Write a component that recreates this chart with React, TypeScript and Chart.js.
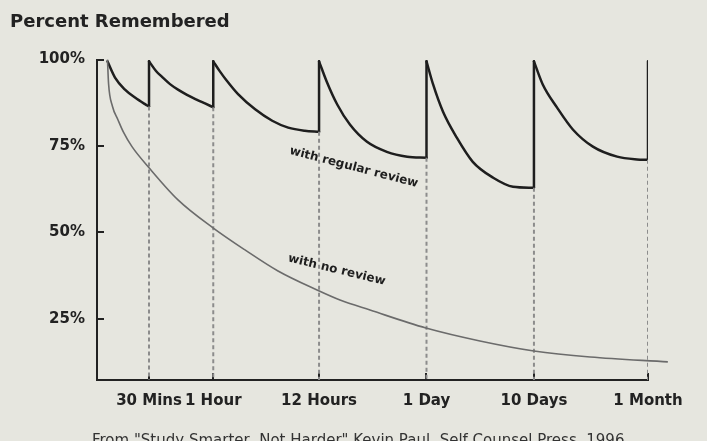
import { useEffect, useRef } from 'react';
import { Chart, registerables } from 'chart.js';

Chart.register(...registerables);

// ---------- data ----------
const catLabels = ['30 Mins', '1 Hour', '12 Hours', '1 Day', '10 Days', '1 Month'];
const catPos = [9.44, 21.1, 40.3, 59.8, 79.3, 100];
const yTickVals = [25, 50, 75, 100];
const yMin = 7.25;
const yMax = 100;
const peak = 99.5;
const troughs = [86.4, 86.2, 79.1, 71.6, 62.9, 71.0];

// "with regular review" decay segments (x position, percent)
const seg1X = [1.9, 3.27, 5.08, 6.9, 8.71, 9.44];
const seg1Y = [99.5, 94.8, 91.3, 89.0, 87.1, 86.4];
const seg2X = [9.44, 10.71, 11.8, 13.25, 14.7, 16.33, 17.97, 19.6, 21.1];
const seg2Y = [99.5, 96.7, 95.0, 92.9, 91.3, 89.8, 88.5, 87.3, 86.2];
const seg3X = [21.1, 22.3, 23.6, 25.6, 28.7, 31.8, 34.7, 37.7, 40.3];
const seg3Y = [99.5, 96.6, 93.8, 90.0, 85.6, 82.3, 80.3, 79.4, 79.1];
const seg4X = [40.3, 41.7, 43.6, 45.9, 49.0, 52.6, 56.3, 59.8];
const seg4Y = [99.5, 93.6, 87.0, 81.2, 76.2, 73.3, 71.9, 71.6];
const seg5X = [59.8, 61.0, 62.8, 65.3, 68.2, 71.9, 75.5, 79.3];
const seg5Y = [99.5, 92.8, 84.9, 77.4, 70.4, 65.8, 63.2, 62.9];
const seg6X = [79.3, 80.9, 83.5, 86.4, 90.0, 94.4, 98.0, 100];
const seg6Y = [99.5, 92.8, 86.1, 79.7, 74.8, 71.9, 71.1, 71.0];

// "with no review" curve
const noReviewX = [1.9, 2.1, 2.8, 3.8, 4.8, 6.35, 9.44, 14.7, 21.05, 26.86, 32.85, 39.93, 44.1, 49.55, 59.7, 69.5, 79.3, 89.5, 103.6];
const noReviewY = [100, 93.0, 86.5, 82.6, 79.0, 74.8, 68.7, 59.4, 51.3, 44.9, 38.8, 33.3, 30.4, 27.5, 22.3, 18.55, 15.65, 13.9, 12.5];

const titleText = 'Percent Remembered';
const footerText = 'From "Study Smarter, Not Harder" Kevin Paul, Self Counsel Press, 1996.';
const noteTexts = ['with regular review', 'with no review'];

// ---------- styles ----------
const BG = '#e6e6df';
const INK = '#1e1e1e';
const FONT = '"DejaVu Sans", Verdana, sans-serif';

const toPts = (xs: number[], ys: number[]) => xs.map((x, i) => ({ x, y: ys[i] }));

const segs = [
  [seg1X, seg1Y],
  [seg2X, seg2Y],
  [seg3X, seg3Y],
  [seg4X, seg4Y],
  [seg5X, seg5Y],
  [seg6X, seg6Y],
];

const jumpPts: any[] = [];
const dashPts: any[] = [];
catPos.forEach((x, i) => {
  jumpPts.push({ x, y: troughs[i] }, { x, y: peak }, { x, y: null });
  dashPts.push({ x, y: troughs[i] }, { x, y: yMin }, { x, y: null });
});

const notePlugin = {
  id: 'notes',
  afterDatasetsDraw(chart: any) {
    const { ctx, scales } = chart;
    const spots = [
      { x: 46.6, y: 68.8, a: 14.5 },
      { x: 43.5, y: 39.1, a: 13.6 },
    ];
    ctx.save();
    ctx.fillStyle = INK;
    ctx.font = `bold 12px ${FONT}`;
    ctx.textAlign = 'center';
    ctx.textBaseline = 'middle';
    spots.forEach((s, i) => {
      const px = scales.x.getPixelForValue(s.x);
      const py = scales.y.getPixelForValue(s.y);
      ctx.save();
      ctx.translate(px, py);
      ctx.rotate((s.a * Math.PI) / 180);
      ctx.fillText(noteTexts[i], 0, 0);
      ctx.restore();
    });
    ctx.restore();
  },
  afterDraw(chart: any) {
    const { ctx, chartArea } = chart;
    ctx.save();
    ctx.fillStyle = '#333';
    ctx.font = `15px ${FONT}`;
    ctx.textAlign = 'left';
    ctx.textBaseline = 'top';
    ctx.fillText(footerText, chartArea.left - 5, 434);
    ctx.restore();
  },
};

export default function App() {
  const ref = useRef<HTMLCanvasElement>(null);
  useEffect(() => {
    document.body.style.margin = '0';
    document.body.style.background = BG;
    const segDatasets = segs.map(([xs, ys]) => ({
      data: toPts(xs, ys),
      borderColor: INK,
      borderWidth: 2.5,
      pointRadius: 0,
      tension: 0.4,
      cubicInterpolationMode: 'monotone' as const,
      borderCapStyle: 'round' as const,
    }));
    const chart = new Chart(ref.current!, {
      type: 'line',
      data: {
        datasets: [
          {
            data: toPts(noReviewX, noReviewY),
            borderColor: '#6b6b6b',
            borderWidth: 1.6,
            pointRadius: 0,
            tension: 0.4,
            cubicInterpolationMode: 'monotone',
            clip: false as any,
          },
          {
            data: dashPts,
            borderColor: '#8c8c8c',
            borderWidth: 2,
            borderDash: [4, 3],
            pointRadius: 0,
            tension: 0,
            spanGaps: false,
          },
          ...segDatasets,
          {
            data: jumpPts,
            borderColor: INK,
            borderWidth: 2.5,
            pointRadius: 0,
            tension: 0,
            spanGaps: false,
            borderCapStyle: 'round',
          },
        ] as any,
      },
      options: {
        animation: false,
        responsive: false,
        layout: { padding: { left: 10, right: 59, top: 0, bottom: 12 } },
        plugins: {
          legend: { display: false },
          tooltip: { enabled: false },
          title: {
            display: true,
            text: titleText,
            align: 'start',
            color: '#222',
            font: { family: FONT, size: 18, weight: 'bold' },
            padding: { top: 12, bottom: 26 },
          },
        },
        scales: {
          x: {
            type: 'linear',
            min: 0,
            max: 100,
            afterBuildTicks: (s: any) => {
              s.ticks = catPos.map((v) => ({ value: v }));
            },
            ticks: {
              callback: (_v: any, i: number) => catLabels[i],
              color: '#222',
              font: { family: FONT, size: 15, weight: 'bold' },
              padding: 19,
              autoSkip: false,
              maxRotation: 0,
            },
            grid: { drawOnChartArea: false, drawTicks: true, tickLength: -7, color: '#222', lineWidth: 2 },
            border: { color: '#222', width: 2 },
          },
          y: {
            type: 'linear',
            min: yMin,
            max: yMax,
            afterBuildTicks: (s: any) => {
              s.ticks = yTickVals.map((v) => ({ value: v }));
            },
            afterFit: (s: any) => {
              s.width = 87;
            },
            ticks: {
              callback: (v: any) => `${v}%`,
              color: '#222',
              font: { family: FONT, size: 15, weight: 'bold' },
              padding: 19,
            },
            grid: { drawOnChartArea: false, drawTicks: true, tickLength: -7, color: '#222', lineWidth: 2 },
            border: { color: '#222', width: 2 },
          },
        },
      } as any,
      plugins: [notePlugin],
    });
    return () => chart.destroy();
  }, []);
  return (
    <div style={{ position: 'fixed', left: 0, top: 0, width: 707, height: 441, background: BG, overflow: 'hidden' }}>
      <canvas ref={ref} width={707} height={441} style={{ display: 'block' }} />
    </div>
  );
}
